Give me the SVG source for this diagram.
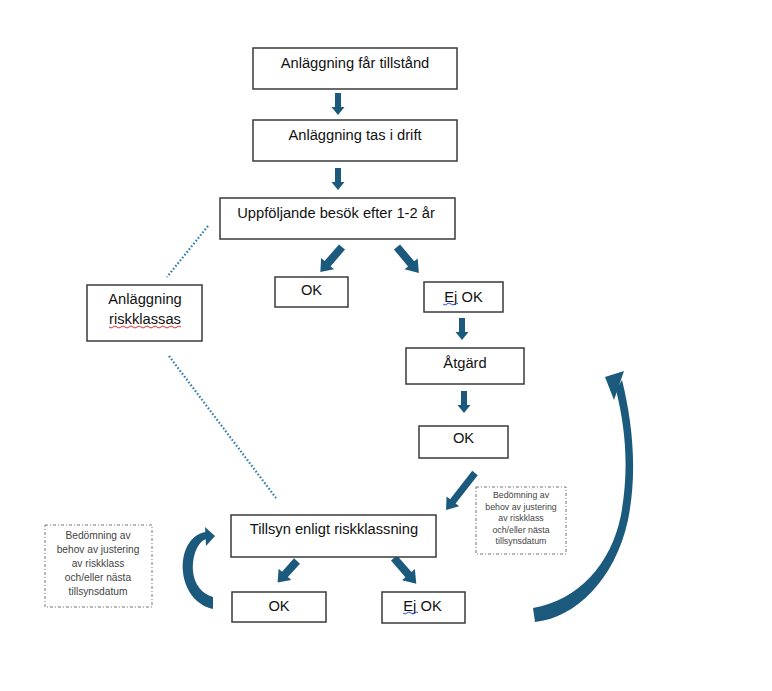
<svg xmlns="http://www.w3.org/2000/svg" width="772" height="691" viewBox="0 0 772 691">
<style>
.box{fill:#fff;stroke:#3a3a3a;stroke-width:1.5}
.note{fill:#fff;stroke:#777;stroke-width:1;stroke-dasharray:3 2 1 2}
.t{font-family:"Liberation Sans",Arial,sans-serif;font-size:14.7px;fill:#111;text-anchor:middle}
.s{font-family:"Liberation Sans",Arial,sans-serif;fill:#444;text-anchor:middle}
.arr{fill:#1c5a7d}
.dot{fill:none;stroke:#2e7bb0;stroke-width:2.2;stroke-dasharray:1.6 2}
.sq{fill:none;stroke-width:1}
</style>
<rect width="772" height="691" fill="#fff"/>
<g id="connectors">
<line class="dot" x1="208" y1="226" x2="167" y2="277"/>
<line class="dot" x1="169" y1="356" x2="276" y2="498"/>
<path class="arr" transform="translate(338,93)" d="M-3,0 L3,0 L3,14 L6.5,14 L0,22 L-6.5,14 L-3,14 Z"/>
<path class="arr" transform="translate(338,168)" d="M-3,0 L3,0 L3,14 L6.5,14 L0,22 L-6.5,14 L-3,14 Z"/>
<path class="arr" transform="translate(342,247) rotate(41)" d="M-4,0 L4,0 L4,22 L8.5,22 L0,33 L-8.5,22 L-4,22 Z"/>
<path class="arr" transform="translate(397,247) rotate(-40)" d="M-4,0 L4,0 L4,22 L8.5,22 L0,34 L-8.5,22 L-4,22 Z"/>
<path class="arr" transform="translate(462,318) " d="M-3,0 L3,0 L3,14 L6.5,14 L0,22 L-6.5,14 L-3,14 Z"/>
<path class="arr" transform="translate(464,391)" d="M-3,0 L3,0 L3,14 L6.5,14 L0,22 L-6.5,14 L-3,14 Z"/>
<path class="arr" transform="translate(475,473) rotate(38)" d="M-3.5,0 L3.5,0 L3.5,36 L8,36 L0,47 L-8,36 L-3.5,36 Z"/>
<path class="arr" transform="translate(297,561) rotate(42)" d="M-4,0 L4,0 L4,18 L8.5,18 L0,29 L-8.5,18 L-4,18 Z"/>
<path class="arr" transform="translate(394,558) rotate(-41)" d="M-4,0 L4,0 L4,22 L8.5,22 L0,34 L-8.5,22 L-4,22 Z"/>
<path class="arr" d="M206,532 C190,534 181,552 183,572 C185,592 198,606 213,609 L213,597 C202,594 194,584 193,571 C192,555 198,542 206,539 Z"/>
<polygon class="arr" points="215,536 205,527 206,546"/>
<path class="arr" d="M535,622 C575,618 615,580 628,520 C638,470 632,420 622,380 L616,390 C626,430 629,470 621,515 C611,565 578,600 533,608 Z"/>
<polygon class="arr" points="605,377 624,371 614,400"/>
</g>
<g id="n1"><rect class="box" x="253" y="48" width="204" height="41"/><text class="t" x="355" y="68">Anläggning får tillstånd</text></g>
<g id="n2"><rect class="box" x="253" y="120" width="204" height="41"/><text class="t" x="355" y="140">Anläggning tas i drift</text></g>
<g id="n3"><rect class="box" x="220" y="198" width="235" height="41"/><text class="t" x="336" y="218">Uppföljande besök efter 1-2 år</text></g>
<g id="n4"><rect class="box" x="87" y="285" width="115" height="56"/><text class="t" x="145" y="304">Anläggning</text><text class="t" x="145" y="324">riskklassas</text>
<path class="sq" stroke="#e03030" d="M109,327 q2,2 4,0 t4,0 t4,0 t4,0 t4,0 t4,0 t4,0 t4,0 t4,0 t4,0 t4,0 t4,0 t4,0 t4,0 t4,0 t4,0 t4,0 t4,0"/></g>
<g id="n5"><rect class="box" x="275" y="277" width="73" height="30"/><text class="t" x="311.5" y="295">OK</text></g>
<g id="n6"><rect class="box" x="424" y="282" width="79" height="30"/><text class="t" x="463.5" y="302">Ej OK</text>
<path class="sq" stroke="#3050d0" d="M443,304 q2,2 4,0 t4,0 t4,0 t3,0"/></g>
<g id="n7"><rect class="box" x="406" y="348" width="118" height="36"/><text class="t" x="465" y="368">Åtgärd</text></g>
<g id="n8"><rect class="box" x="419" y="426" width="89" height="32"/><text class="t" x="463.5" y="443">OK</text></g>
<g id="n9"><rect class="note" x="476" y="487" width="90" height="67"/>
<text class="s" font-size="8.8" x="521" y="498">Bedömning av</text>
<text class="s" font-size="8.8" x="521" y="509.5">behov av justering</text>
<text class="s" font-size="8.8" x="521" y="521">av riskklass</text>
<text class="s" font-size="8.8" x="521" y="532.5">och/eller nästa</text>
<text class="s" font-size="8.8" x="521" y="544">tillsynsdatum</text></g>
<g id="n10"><rect class="box" x="231" y="515" width="205" height="42"/><text class="t" x="334" y="534">Tillsyn enligt riskklassning</text></g>
<g id="n11"><rect class="box" x="232" y="592" width="94" height="30"/><text class="t" x="279" y="611">OK</text></g>
<g id="n12"><rect class="box" x="382" y="592" width="83" height="31"/><text class="t" x="422.5" y="611">Ej OK</text>
<path class="sq" stroke="#3050d0" d="M403,613 q2,2 4,0 t4,0 t4,0 t3,0"/></g>
<g id="n13"><rect class="note" x="45" y="525" width="107" height="82"/>
<text class="s" font-size="10.2" x="98" y="539">Bedömning av</text>
<text class="s" font-size="10.2" x="98" y="553">behov av justering</text>
<text class="s" font-size="10.2" x="98" y="567">av riskklass</text>
<text class="s" font-size="10.2" x="98" y="581">och/eller nästa</text>
<text class="s" font-size="10.2" x="98" y="595">tillsynsdatum</text></g>
</svg>
